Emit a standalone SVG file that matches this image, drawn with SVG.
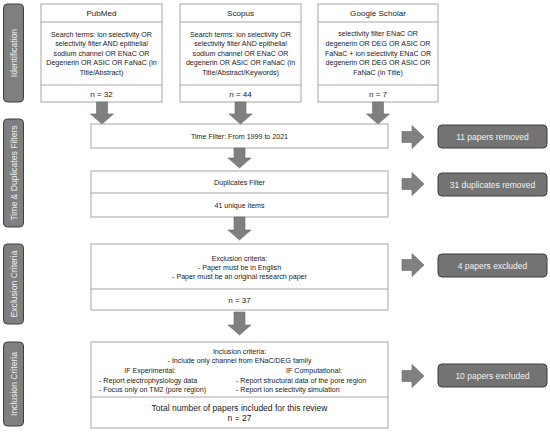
<svg xmlns="http://www.w3.org/2000/svg" width="550" height="434" viewBox="0 0 550 434">
<style>
.box{fill:#fff;stroke:#a6a6a6;stroke-width:1}
.div{stroke:#a6a6a6;stroke-width:1}
.side{fill:#7f7f7f;stroke:#3f3f3f;stroke-width:1}
.res{fill:#737373;stroke:#3f3f3f;stroke-width:1}
.arr{fill:#808080;stroke:#6a6a6a;stroke-width:0.6}
text{font-family:"Liberation Sans",Arial,sans-serif;font-size:7.1px;fill:#1a1a1a;text-anchor:middle}
.st{font-size:8.6px;fill:#f0f0f0}
.rt{font-size:8.5px;fill:#f2f2f2}
.hd{font-size:8.1px}
.big{font-size:8.5px}
.l{text-anchor:start}
</style>
<rect width="550" height="434" fill="#fff"/>
<g id="side-identification"><rect class="side" x="3.5" y="4" width="20" height="98" rx="4"/><text class="st" transform="translate(16.5,53) rotate(-90)">Identification</text></g>
<g id="side-time"><rect class="side" x="3.5" y="119" width="20" height="108" rx="4"/><text class="st" transform="translate(16.5,173) rotate(-90)">Time &amp; Duplicates Filters</text></g>
<g id="side-exclusion"><rect class="side" x="3.5" y="244" width="20" height="80" rx="4"/><text class="st" transform="translate(16.5,284) rotate(-90)">Exclusion Criteria</text></g>
<g id="side-inclusion"><rect class="side" x="3.5" y="342" width="20" height="84" rx="4"/><text class="st" transform="translate(16.5,384) rotate(-90)">Inclusion Criteria</text></g>

<g id="pubmed"><rect class="box" x="41" y="4" width="121" height="98"/><line class="div" x1="41" y1="22" x2="162" y2="22"/><line class="div" x1="41" y1="85" x2="162" y2="85"/>
<text class="hd" x="101.5" y="16">PubMed</text>
<text x="101.5" y="36.5">Search terms: ion selectivity OR</text>
<text x="101.5" y="46">selectivity filter AND epithelial</text>
<text x="101.5" y="55.5">sodium channel OR ENaC OR</text>
<text x="101.5" y="65">Degenerin OR ASIC OR FaNaC (in</text>
<text x="101.5" y="74.5">Title/Abstract)</text>
<text class="hd" x="101.5" y="96.5">n = 32</text></g>

<g id="scopus"><rect class="box" x="180" y="4" width="121" height="98"/><line class="div" x1="180" y1="22" x2="301" y2="22"/><line class="div" x1="180" y1="85" x2="301" y2="85"/>
<text class="hd" x="240.5" y="16">Scopus</text>
<text x="240.5" y="36.5">Search terms: ion selectivity OR</text>
<text x="240.5" y="46">selectivity filter AND epithelial</text>
<text x="240.5" y="55.5">sodium channel OR ENaC OR</text>
<text x="240.5" y="65">degenerin OR ASIC OR FaNaC (in</text>
<text x="240.5" y="74.5">Title/Abstract/Keywords)</text>
<text class="hd" x="240.5" y="96.5">n = 44</text></g>

<g id="scholar"><rect class="box" x="318" y="4" width="120" height="98"/><line class="div" x1="318" y1="22" x2="438" y2="22"/><line class="div" x1="318" y1="85" x2="438" y2="85"/>
<text class="hd" x="378" y="16">Google Scholar</text>
<text x="378" y="35.5">selectivity filter ENaC OR</text>
<text x="378" y="45.5">degenerin OR DEG OR ASIC OR</text>
<text x="378" y="55.5">FaNaC + ion selectivity ENaC OR</text>
<text x="378" y="65">degenerin OR DEG OR ASIC OR</text>
<text x="378" y="74.5">FaNaC (in Title)</text>
<text class="hd" x="378" y="96.5">n = 7</text></g>

<g id="time-filter"><rect class="box" x="91" y="124" width="297" height="24"/><text x="239.5" y="138.5">Time Filter: From 1999 to 2021</text></g>

<g id="duplicates-filter"><rect class="box" x="91" y="171" width="297" height="46"/><line class="div" x1="91" y1="193" x2="388" y2="193"/>
<text x="239.5" y="185">Duplicates Filter</text><text x="239.5" y="207.5">41 unique items</text></g>

<g id="exclusion"><rect class="box" x="91" y="244" width="297" height="66"/><line class="div" x1="91" y1="289" x2="388" y2="289"/>
<text x="239.5" y="260.5">Exclusion criteria:</text>
<text x="239.5" y="269.5">-     Paper must be in English</text>
<text x="239.5" y="278.5">-     Paper must be an original research paper</text>
<text class="hd" x="239.5" y="302.5">n = 37</text></g>

<g id="inclusion"><rect class="box" x="91" y="342" width="297" height="86"/><line class="div" x1="91" y1="397" x2="388" y2="397"/>
<text x="239.5" y="353.5">Inclusion criteria:</text>
<text x="239.5" y="363">-     Include only channel from ENaC/DEG family</text>
<text x="150" y="372.5">IF Experimental:</text>
<text x="314" y="372.5">IF Computational:</text>
<text class="l" x="99" y="382.5">-     Report electrophysiology data</text>
<text class="l" x="99" y="391.5">-     Focus only on TM2 (pore region)</text>
<text class="l" x="236" y="382.5">-     Report structural data of the pore region</text>
<text class="l" x="236" y="391.5">-     Report ion selectivity simulation</text>
<text class="big" x="239.5" y="410.5">Total number of papers included for this review</text>
<text class="big" x="239.5" y="420.5">n = 27</text></g>

<g id="res-11"><rect class="res" x="438" y="125" width="109" height="23" rx="4"/><text class="rt" x="492.5" y="139.5">11 papers removed</text></g>
<g id="res-31"><rect class="res" x="438" y="173" width="109" height="23" rx="4"/><text class="rt" x="492.5" y="187.5">31 duplicates removed</text></g>
<g id="res-4"><rect class="res" x="438" y="254" width="109" height="23" rx="4"/><text class="rt" x="492.5" y="268.5">4 papers excluded</text></g>
<g id="res-10"><rect class="res" x="438" y="364" width="109" height="23" rx="4"/><text class="rt" x="492.5" y="378.5">10 papers excluded</text></g>

<g id="connectors">
<path class="arr" d="M96.5,102 h11 v12 h6 l-11.5,10 l-11.5,-10 h6 z"/>
<path class="arr" d="M235,102 h11 v12 h6 l-11.5,10 l-11.5,-10 h6 z"/>
<path class="arr" d="M372.5,102 h11 v12 h6 l-11.5,10 l-11.5,-10 h6 z"/>
<path class="arr" d="M234,148 h11 v10 h6 l-11.5,10 l-11.5,-10 h6 z"/>
<path class="arr" d="M234,217 h11 v13 h6 l-11.5,10 l-11.5,-10 h6 z"/>
<path class="arr" d="M234,312 h11 v13 h6 l-11.5,10 l-11.5,-10 h6 z"/>
<path class="arr" d="M402,131.5 h10 v-6 l12,11.5 l-12,11.5 v-6 h-10 z"/>
<path class="arr" d="M402,178.5 h10 v-6 l12,11.5 l-12,11.5 v-6 h-10 z"/>
<path class="arr" d="M402,259.5 h10 v-6 l12,11.5 l-12,11.5 v-6 h-10 z"/>
<path class="arr" d="M402,370.5 h10 v-6 l12,11.5 l-12,11.5 v-6 h-10 z"/>
</g>
</svg>
